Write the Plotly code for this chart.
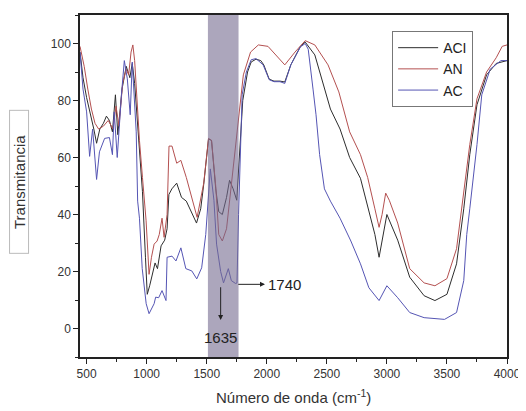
import plotly.graph_objects as go

# ---- data ----
aci_x = [445, 470, 500, 530, 560, 583, 610, 640, 665, 690, 715, 740, 760, 795, 830, 860, 880, 900, 920, 940,
         965, 990, 1005, 1025, 1050, 1070, 1090, 1120, 1150, 1170, 1185, 1210, 1250, 1290, 1330, 1380, 1415,
         1450, 1475, 1515, 1540, 1575, 1600, 1630, 1665, 1690, 1720, 1750, 1772, 1800, 1840, 1870, 1910, 1950,
         1975, 2020, 2060, 2110, 2150, 2200, 2280, 2320, 2400, 2480, 2530, 2610, 2690, 2780, 2820, 2860, 2900,
         2935, 3000, 3090, 3190, 3310, 3400, 3500, 3580, 3640, 3690, 3750, 3830, 3910, 4000]
aci_y = [97, 88, 81, 76, 70, 65, 70, 72, 74.5, 73, 69, 82, 68, 84, 92, 88, 93, 86, 74, 64,
         48, 25, 12, 15, 19, 23, 21, 29, 31, 35, 47, 49, 51, 46, 44.7, 40, 37,
         42, 50.6, 66.5, 66, 49, 41, 40, 46, 52, 49, 45, 62, 80, 90, 93.5, 94.5, 94,
         92.5, 87.5, 86.8, 86.8, 86.5, 92.5, 99, 100.5, 96, 84, 77, 70, 60, 52.7, 46, 40, 33,
         25, 40, 31, 18, 11.5, 9.8, 12, 22.7, 42, 61, 78.5, 89, 93, 94]

an_x = [445, 480, 510, 540, 570, 600, 640, 680, 720, 745, 770, 800, 830, 850, 870, 885, 900, 920, 940, 965,
        995, 1020, 1040, 1062, 1087, 1105, 1128, 1145, 1170, 1186, 1211, 1250, 1285, 1330, 1380, 1420, 1475,
        1515, 1540, 1575, 1600, 1630, 1665, 1720, 1765, 1805, 1865, 1930, 2010, 2095, 2150, 2235, 2320, 2400,
        2510, 2600, 2690, 2780, 2840, 2900, 2935, 2960, 2990, 3020, 3090, 3190, 3310, 3400, 3500, 3580, 3640,
        3690, 3750, 3830, 3910, 3960, 4000]
an_y = [99, 92, 84, 77, 72, 70, 71, 73, 70, 78, 71, 86, 91, 89, 97, 99.5, 94, 80, 66, 53,
        38, 19, 25, 29.6, 30.7, 33, 38.7, 32, 40, 64, 64, 58, 59, 53, 45, 39, 51,
        66.7, 66, 50, 33, 30.7, 35, 56, 73, 89, 97, 99.5, 99, 95, 92.5, 97, 101, 99.5,
        92.5, 83, 69, 61, 53, 42, 35.5, 40, 47.5, 45, 37, 21, 16, 15, 17.5, 28, 47,
        64.5, 80.6, 90, 95, 99, 99.5]

ac_x = [445, 470, 500, 525, 550, 583, 607, 650, 690, 715, 730, 755, 790, 814, 839, 863, 880, 913, 925, 940,
        963, 996, 1020, 1062, 1075, 1100, 1128, 1150, 1161, 1170, 1211, 1244, 1285, 1326, 1376, 1417, 1458,
        1492, 1530, 1560, 1582, 1616, 1640, 1680, 1705, 1740, 1752, 1765, 1780, 1795, 1830, 1870, 1910, 1970,
        2020, 2060, 2110, 2150, 2200, 2280, 2320, 2345, 2385, 2410, 2440, 2480, 2530, 2610, 2700, 2780, 2850,
        2935, 3000, 3090, 3190, 3310, 3480, 3580, 3640, 3665, 3690, 3750, 3790, 3860, 3950, 4000]
ac_y = [97, 84, 76, 60.4, 70, 52.3, 62, 66.7, 67, 61, 76, 60, 82, 94, 87.6, 75, 93.5, 69, 44.7, 38.7,
        21, 8.7, 5.2, 8.7, 11, 10.8, 13.3, 11, 9.8, 25, 25.4, 23.7, 28.3, 21, 20.2, 17.4, 21.3,
        33, 56, 45, 29.6, 20, 16, 21, 16.8, 15.8, 16, 40, 65, 82, 90, 94.3, 94.7, 92.5,
        87.3, 86.6, 86.6, 86, 92.5, 98.8, 100, 98, 84, 75, 61, 49, 44.7, 38.7, 30.7, 22.7, 14.3,
        9.8, 15, 10.8, 5.6, 3.8, 3.2, 5.6, 16.8, 33, 42, 64.5, 82, 91, 94, 94]

series_names = ["ACI", "AN", "AC"]
band_range = [1510, 1765]
x_ticks = [500, 1000, 1500, 2000, 2500, 3000, 3500, 4000]
y_ticks = [0, 20, 40, 60, 80, 100]

FONT = "Liberation Sans, Arial, sans-serif"

fig = go.Figure()
fig.add_trace(go.Scatter(x=aci_x, y=aci_y, mode="lines", name=series_names[0],
                         line=dict(color="rgb(45,45,45)", width=1)))
fig.add_trace(go.Scatter(x=an_x, y=an_y, mode="lines", name=series_names[1],
                         line=dict(color="rgb(180,80,80)", width=1)))
fig.add_trace(go.Scatter(x=ac_x, y=ac_y, mode="lines", name=series_names[2],
                         line=dict(color="rgb(85,85,180)", width=1)))

fig.add_shape(type="rect", xref="x", yref="paper", x0=band_range[0], x1=band_range[1], y0=0, y1=1,
              fillcolor="rgba(117,107,143,0.6)", line=dict(width=0), layer="above")

# arrows and labels
fig.add_annotation(x=1616, y=3, ax=1616, ay=15, xref="x", yref="y", axref="x", ayref="y",
                   text="", showarrow=True, arrowhead=2, arrowsize=1, arrowwidth=1, arrowcolor="#222")
fig.add_annotation(x=1616, y=-3.2, xref="x", yref="y", text="1635", showarrow=False,
                   font=dict(size=15, color="#222", family=FONT))
fig.add_annotation(x=1985, y=15.5, ax=1750, ay=15.5, xref="x", yref="y", axref="x", ayref="y",
                   text="", showarrow=True, arrowhead=2, arrowsize=1, arrowwidth=1, arrowcolor="#222")
fig.add_annotation(x=1995, y=15.5, xref="x", yref="y", text="1740", showarrow=False, xanchor="left",
                   font=dict(size=15, color="#222", family=FONT))

# boxed y title
fig.add_annotation(x=-0.143, y=0.512, xref="paper", yref="paper", text="Transmitancia", textangle=-90,
                   xanchor="center", yanchor="middle",
                   showarrow=False, font=dict(size=15, color="#333", family=FONT),
                   bordercolor="#bbbbbb", borderwidth=1, borderpad=1, width=140, height=16,
                   bgcolor="white")
fig.add_annotation(x=0.5, y=-0.116, xref="paper", yref="paper", xanchor="center", yanchor="middle",
                   text="Número de onda (cm<sup>-1</sup>)", showarrow=False,
                   font=dict(size=15, color="#333", family=FONT))

fig.update_layout(
    width=518, height=403,
    margin=dict(l=72, r=15, t=5, b=54),
    paper_bgcolor="white", plot_bgcolor="white",
    font=dict(family=FONT, color="#333"),
    showlegend=True,
    legend=dict(x=0.731, y=0.953, xanchor="left", yanchor="top",
                bordercolor="#777", borderwidth=1, bgcolor="white",
                font=dict(size=14, color="#222", family=FONT),
                tracegroupgap=0, itemwidth=40),
    xaxis=dict(range=[445, 4000], tickvals=x_ticks, ticks="outside", ticklen=5, tickwidth=1,
               tickcolor="#222", showline=True, linecolor="#222", linewidth=1.5, mirror=True,
               showgrid=False, zeroline=False, tickfont=dict(size=12, color="#333"),
               minor=dict(ticks="outside", ticklen=3, dtick=250, tick0=500, tickcolor="#222")),
    yaxis=dict(range=[-10, 110], tickvals=y_ticks, ticks="outside", ticklen=5, tickwidth=1,
               tickcolor="#222", showline=True, linecolor="#222", linewidth=1.5, mirror=True,
               showgrid=False, zeroline=False, tickfont=dict(size=12, color="#333"),
               minor=dict(ticks="outside", ticklen=3, dtick=10, tick0=0, tickcolor="#222")),
)

fig.write_html("out.html")
